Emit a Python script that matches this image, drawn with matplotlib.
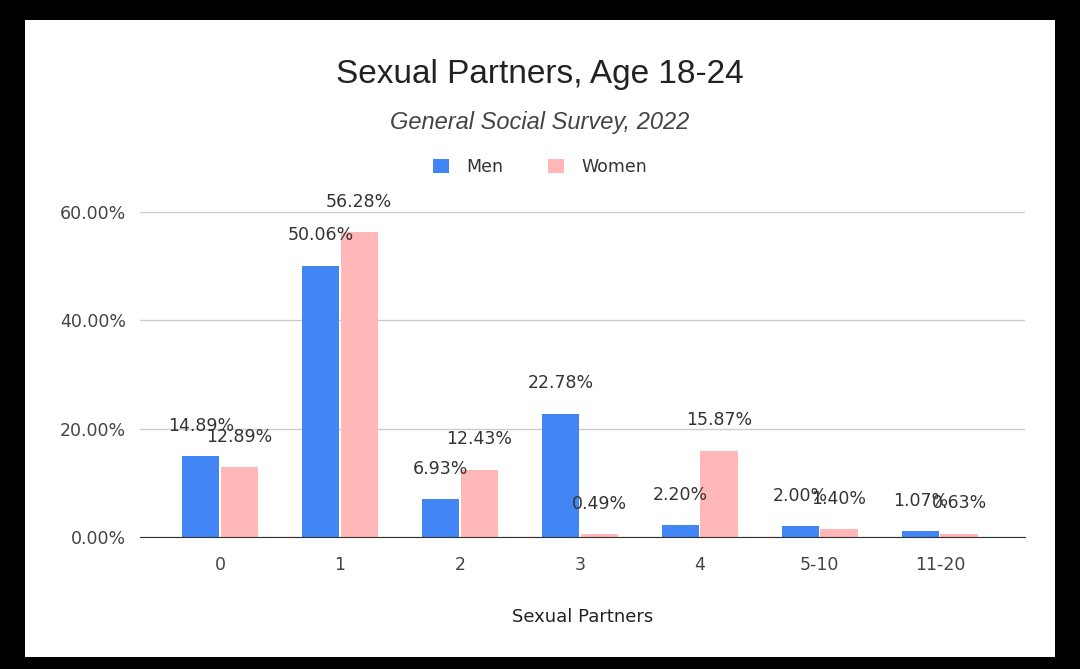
import numpy as np
import matplotlib
matplotlib.use("Agg")
import matplotlib.pyplot as plt
from matplotlib.patches import Rectangle

plt.rcParams['font.family'] = ['Liberation Sans', 'DejaVu Sans']
chica = ['DejaVu Sans']

# data
categorias = ["0", "1", "2", "3", "4", "5-10", "11-20"]
hombres = [14.89, 50.06, 6.93, 22.78, 2.20, 2.00, 1.07]
mujeres = [12.89, 56.28, 12.43, 0.49, 15.87, 1.40, 0.63]
yticks = [0, 20, 40, 60]

azul = "#4285F4"
rosa = "#FFB7B7"

fig = plt.figure(figsize=(10.8, 6.69), dpi=100, facecolor="black")
fig.patches.append(Rectangle((25/1080, 12/669), 1030/1080, 637/669,
                             transform=fig.transFigure, facecolor="white",
                             edgecolor="none", zorder=-10))

ax = fig.add_axes([140/1080, 132/669, 885/1080, 325/669])
ax.set_facecolor("white")

x = np.arange(len(categorias))
w = 0.31
b1 = ax.bar(x - 0.16, hombres, w, color=azul, label="Men", zorder=3)
b2 = ax.bar(x + 0.16, mujeres, w, color=rosa, label="Women", zorder=3)

for barras, vals in [(b1, hombres), (b2, mujeres)]:
    for b, v in zip(barras, vals):
        ax.annotate("%.2f%%" % v, (b.get_x() + b.get_width()/2, v),
                    xytext=(0, 22), textcoords="offset points",
                    ha="center", va="center", fontsize=12.5, family=chica,
                    color="#333333", clip_on=False, zorder=5)

ax.set_xlim(-0.667, 6.71)
ax.set_ylim(0, 60)
ax.set_yticks(yticks)
ax.set_yticklabels(["%.2f%%" % t for t in yticks], family=chica)
ax.set_xticks(x)
ax.set_xticklabels(categorias, family=chica)
ax.tick_params(length=0, labelsize=12.5, labelcolor="#444444")
ax.tick_params(axis="y", pad=10)
ax.tick_params(axis="x", pad=14)
ax.grid(axis="y", color="#cccccc", linewidth=1, zorder=0)
for s in ["top", "right", "left"]:
    ax.spines[s].set_visible(False)
ax.spines["bottom"].set_color("#333333")
ax.spines["bottom"].set_zorder(4)

ax.set_xlabel("Sexual Partners", fontsize=13, family=chica, color="#222222",
              labelpad=24)

fig.text(0.5, 1 - 75/669, "Sexual Partners, Age 18-24", ha="center",
         va="center", fontsize=24, color="#222222")
fig.text(0.5, 1 - 122/669, "General Social Survey, 2022", ha="center",
         va="center", fontsize=17, style="italic", color="#444444")

fig.legend(handles=[b1, b2], loc="center", bbox_to_anchor=(0.5, 1 - 167/669),
           ncol=2, frameon=False, prop={'family': chica, 'size': 12.5},
           handlelength=0.9, handleheight=0.9, columnspacing=2.6,
           handletextpad=1.0, labelcolor="#333333")

fig.savefig("out.png", dpi=100, facecolor="black")
